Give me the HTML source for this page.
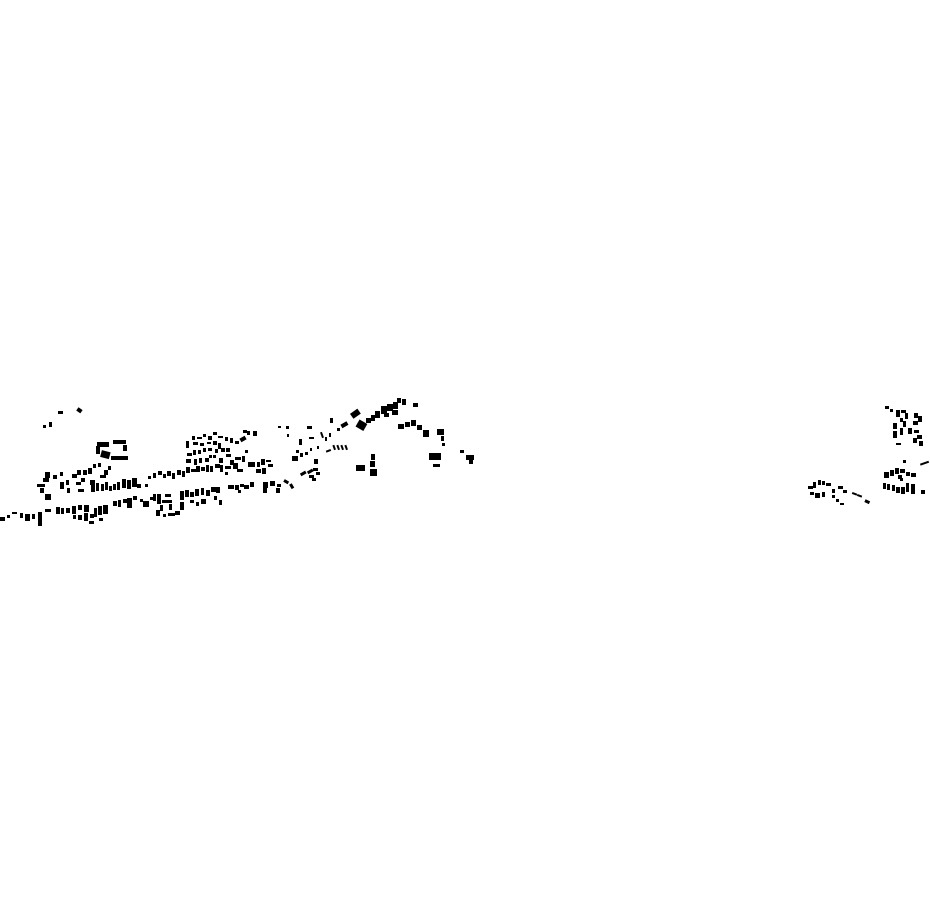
<!DOCTYPE html>
<html><head><meta charset="utf-8"><style>html,body{margin:0;padding:0;background:#fff}svg{display:block}</style></head>
<body>
<svg width="930" height="924" viewBox="0 0 930 924" xmlns="http://www.w3.org/2000/svg" fill="#000">
<!-- far west outliers -->
<rect x="58" y="411" width="5" height="3"/>
<rect x="77" y="408" width="5" height="4" transform="rotate(35 79 410)"/>
<rect x="43" y="425" width="3" height="3"/>
<rect x="49" y="422" width="3" height="5"/>
<!-- courtyard block -->
<rect x="97" y="442" width="12" height="5"/>
<rect x="96" y="446" width="4" height="8"/>
<rect x="101" y="451" width="9" height="7" transform="rotate(15 105 454)"/>
<rect x="113" y="440" width="13" height="4"/>
<rect x="123" y="445" width="4" height="6"/>
<rect x="111" y="456" width="17" height="4"/>
<!-- west cluster -->
<rect x="45" y="472" width="5" height="6"/>
<rect x="43" y="478" width="6" height="4"/>
<rect x="37" y="484" width="8" height="3"/>
<rect x="40" y="488" width="4" height="5"/>
<rect x="45" y="494" width="6" height="6"/>
<rect x="53" y="475" width="4" height="4"/>
<rect x="60" y="472" width="3" height="4"/>
<rect x="60" y="482" width="4" height="7"/>
<rect x="66" y="480" width="3" height="5"/>
<rect x="67" y="488" width="3" height="5"/>
<rect x="72" y="474" width="5" height="4"/>
<rect x="77" y="470" width="4" height="5"/>
<rect x="83" y="470" width="4" height="5"/>
<rect x="88" y="468" width="4" height="6"/>
<rect x="93" y="464" width="3" height="4"/>
<rect x="98" y="463" width="3" height="4"/>
<rect x="76" y="482" width="5" height="3"/>
<rect x="81" y="478" width="4" height="4"/>
<rect x="90" y="480" width="5" height="5"/>
<rect x="78" y="489" width="6" height="3"/>
<rect x="91" y="483" width="4" height="9"/>
<rect x="96" y="483" width="3" height="8"/>
<rect x="101" y="484" width="3" height="7"/>
<rect x="105" y="482" width="3" height="8"/>
<rect x="109" y="486" width="3" height="5"/>
<rect x="113" y="484" width="3" height="6"/>
<rect x="117" y="482" width="3" height="8"/>
<rect x="122" y="479" width="4" height="9"/>
<rect x="127" y="480" width="4" height="9"/>
<rect x="132" y="478" width="5" height="9"/>
<rect x="137" y="484" width="4" height="4"/>
<rect x="145" y="484" width="3" height="3"/>
<rect x="100" y="475" width="6" height="3"/>
<rect x="104" y="470" width="4" height="5"/>
<rect x="108" y="466" width="3" height="4"/>
<!-- south-west row -->
<rect x="0" y="517" width="5" height="4"/>
<rect x="7" y="515" width="3" height="3"/>
<rect x="12" y="512" width="5" height="2"/>
<rect x="20" y="513" width="3" height="5"/>
<rect x="25" y="514" width="5" height="7"/>
<rect x="32" y="514" width="3" height="5"/>
<rect x="38" y="512" width="4" height="14"/>
<rect x="45" y="509" width="6" height="3"/>
<rect x="56" y="507" width="4" height="7"/>
<rect x="61" y="508" width="3" height="6"/>
<rect x="66" y="508" width="4" height="5"/>
<rect x="72" y="506" width="4" height="8"/>
<rect x="78" y="505" width="4" height="5"/>
<rect x="84" y="505" width="5" height="7"/>
<rect x="73" y="515" width="3" height="4"/>
<rect x="78" y="515" width="4" height="5"/>
<rect x="84" y="513" width="4" height="8"/>
<rect x="90" y="514" width="4" height="4"/>
<rect x="89" y="521" width="5" height="3"/>
<rect x="94" y="508" width="3" height="9"/>
<rect x="98" y="506" width="4" height="9"/>
<rect x="103" y="505" width="5" height="9"/>
<rect x="99" y="518" width="4" height="3"/>
<rect x="113" y="501" width="4" height="5"/>
<rect x="118" y="500" width="3" height="7"/>
<rect x="123" y="499" width="5" height="4"/>
<rect x="127" y="498" width="5" height="10"/>
<rect x="133" y="496" width="4" height="4"/>
<rect x="140" y="499" width="3" height="3"/>
<rect x="143" y="501" width="6" height="6"/>
<rect x="150" y="497" width="4" height="3"/>
<rect x="153" y="494" width="3" height="7"/>
<rect x="157" y="494" width="4" height="10"/>
<rect x="162" y="500" width="10" height="3"/>
<rect x="160" y="505" width="3" height="6"/>
<rect x="156" y="510" width="4" height="6"/>
<rect x="163" y="514" width="3" height="3"/>
<rect x="168" y="513" width="7" height="3"/>
<rect x="175" y="511" width="5" height="4"/>
<rect x="169" y="504" width="3" height="6"/>
<!-- central north cluster -->
<rect x="192" y="436" width="3" height="4"/>
<rect x="197" y="437" width="5" height="2"/>
<rect x="203" y="434" width="3" height="3"/>
<rect x="208" y="436" width="4" height="4"/>
<rect x="213" y="432" width="4" height="3"/>
<rect x="218" y="436" width="5" height="2"/>
<rect x="225" y="437" width="3" height="4"/>
<rect x="230" y="438" width="3" height="5"/>
<rect x="235" y="441" width="4" height="3"/>
<rect x="186" y="441" width="3" height="7"/>
<rect x="193" y="442" width="5" height="3"/>
<rect x="200" y="443" width="4" height="3"/>
<rect x="207" y="442" width="4" height="2"/>
<rect x="213" y="441" width="4" height="4"/>
<rect x="218" y="443" width="3" height="6"/>
<rect x="187" y="453" width="5" height="3"/>
<rect x="193" y="450" width="3" height="5"/>
<rect x="198" y="450" width="3" height="4"/>
<rect x="203" y="448" width="3" height="4"/>
<rect x="208" y="448" width="4" height="3"/>
<rect x="215" y="449" width="3" height="4"/>
<rect x="221" y="448" width="4" height="4"/>
<rect x="226" y="448" width="4" height="4"/>
<rect x="186" y="459" width="5" height="4"/>
<rect x="194" y="459" width="3" height="6"/>
<rect x="199" y="458" width="3" height="5"/>
<rect x="205" y="458" width="4" height="4"/>
<rect x="209" y="455" width="3" height="3"/>
<rect x="213" y="455" width="3" height="3"/>
<rect x="219" y="458" width="4" height="5"/>
<rect x="226" y="454" width="5" height="3"/>
<rect x="230" y="460" width="4" height="5"/>
<rect x="235" y="457" width="6" height="3"/>
<rect x="242" y="456" width="3" height="6"/>
<rect x="245" y="450" width="3" height="3"/>
<rect x="240" y="437" width="6" height="4" transform="rotate(-30 243 439)"/>
<rect x="247" y="431" width="3" height="4"/>
<rect x="253" y="431" width="4" height="5"/>
<rect x="248" y="462" width="7" height="5"/>
<rect x="257" y="462" width="3" height="5"/>
<rect x="261" y="459" width="4" height="6"/>
<rect x="266" y="460" width="5" height="2"/>
<rect x="256" y="469" width="5" height="4"/>
<rect x="262" y="468" width="4" height="6"/>
<rect x="268" y="464" width="5" height="3"/>
<!-- mid cluster rows (y~465-480) -->
<rect x="148" y="476" width="3" height="3"/>
<rect x="153" y="473" width="3" height="5"/>
<rect x="158" y="471" width="4" height="4"/>
<rect x="163" y="474" width="3" height="4"/>
<rect x="167" y="471" width="4" height="5"/>
<rect x="172" y="473" width="3" height="6"/>
<rect x="177" y="470" width="4" height="5"/>
<rect x="182" y="471" width="3" height="6"/>
<rect x="186" y="467" width="4" height="6"/>
<rect x="191" y="469" width="5" height="3"/>
<rect x="196" y="466" width="4" height="6"/>
<rect x="201" y="467" width="4" height="4"/>
<rect x="206" y="465" width="3" height="7"/>
<rect x="210" y="466" width="3" height="6"/>
<rect x="215" y="464" width="5" height="4"/>
<rect x="220" y="465" width="3" height="7"/>
<rect x="225" y="466" width="6" height="3"/>
<rect x="233" y="463" width="5" height="6"/>
<rect x="237" y="469" width="6" height="3"/>
<rect x="225" y="472" width="3" height="3"/>
<!-- mid south row -->
<rect x="165" y="494" width="6" height="3"/>
<rect x="180" y="491" width="4" height="9"/>
<rect x="185" y="490" width="4" height="7"/>
<rect x="190" y="492" width="4" height="5"/>
<rect x="195" y="489" width="4" height="7"/>
<rect x="201" y="488" width="3" height="7"/>
<rect x="206" y="490" width="4" height="6"/>
<rect x="211" y="487" width="5" height="5"/>
<rect x="216" y="487" width="4" height="6"/>
<rect x="190" y="500" width="4" height="3"/>
<rect x="196" y="502" width="3" height="4"/>
<rect x="201" y="499" width="5" height="5"/>
<rect x="214" y="496" width="3" height="4"/>
<rect x="219" y="500" width="3" height="5"/>
<rect x="180" y="502" width="4" height="8"/>
<rect x="228" y="485" width="6" height="4"/>
<rect x="235" y="485" width="4" height="5"/>
<rect x="240" y="484" width="4" height="3"/>
<rect x="244" y="485" width="5" height="4"/>
<rect x="250" y="482" width="4" height="5"/>
<rect x="238" y="490" width="3" height="3"/>
<rect x="263" y="482" width="5" height="6"/>
<rect x="263" y="488" width="4" height="5"/>
<rect x="270" y="481" width="5" height="5"/>
<rect x="277" y="484" width="4" height="3"/>
<rect x="276" y="488" width="4" height="5"/>
<rect x="284" y="480" width="5" height="3" transform="rotate(30 286 481)"/>
<rect x="290" y="484" width="3" height="5" transform="rotate(-30 291 486)"/>
<!-- east of center -->
<rect x="243" y="430" width="4" height="3"/>
<rect x="278" y="426" width="3" height="2"/>
<rect x="286" y="426" width="3" height="3"/>
<rect x="307" y="426" width="5" height="3"/>
<rect x="287" y="434" width="2" height="3"/>
<rect x="299" y="439" width="3" height="6"/>
<rect x="309" y="437" width="5" height="2"/>
<rect x="321" y="432" width="2" height="6" transform="rotate(-20 322 435)"/>
<rect x="325" y="437" width="2" height="4"/>
<rect x="329" y="433" width="2" height="4"/>
<rect x="296" y="450" width="3" height="3"/>
<rect x="300" y="453" width="3" height="4"/>
<rect x="305" y="452" width="3" height="3"/>
<rect x="310" y="448" width="2" height="3"/>
<rect x="317" y="446" width="2" height="3"/>
<rect x="292" y="456" width="6" height="5"/>
<rect x="314" y="459" width="4" height="5"/>
<rect x="326" y="450" width="5" height="2" transform="rotate(-20 328 451)"/>
<rect x="333" y="445" width="2" height="5" transform="rotate(-20 334 447)"/>
<rect x="337" y="445" width="2" height="5" transform="rotate(-20 338 447)"/>
<rect x="341" y="445" width="2" height="5" transform="rotate(-20 342 447)"/>
<rect x="345" y="445" width="2" height="5" transform="rotate(-20 346 447)"/>
<rect x="300" y="472" width="6" height="3" transform="rotate(-30 303 473)"/>
<rect x="307" y="470" width="6" height="3" transform="rotate(-30 310 471)"/>
<rect x="313" y="468" width="5" height="3"/>
<rect x="309" y="475" width="5" height="3"/>
<rect x="316" y="472" width="4" height="3"/>
<rect x="312" y="478" width="4" height="3"/>
<rect x="330" y="418" width="3" height="5"/>
<rect x="341" y="423" width="7" height="4" transform="rotate(-30 344 425)"/>
<rect x="337" y="428" width="3" height="3"/>
<rect x="351" y="411" width="9" height="6" transform="rotate(-35 355 414)"/>
<rect x="357" y="421" width="9" height="8" transform="rotate(30 361 425)"/>
<rect x="366" y="418" width="5" height="5"/>
<rect x="371" y="415" width="4" height="6"/>
<rect x="375" y="411" width="5" height="7"/>
<rect x="381" y="406" width="6" height="8"/>
<rect x="387" y="404" width="6" height="7"/>
<rect x="384" y="413" width="5" height="4"/>
<rect x="393" y="402" width="5" height="7"/>
<rect x="397" y="398" width="4" height="5"/>
<rect x="402" y="399" width="4" height="6"/>
<rect x="392" y="410" width="6" height="5"/>
<rect x="413" y="403" width="5" height="4"/>
<rect x="398" y="424" width="6" height="5"/>
<rect x="405" y="422" width="5" height="5"/>
<rect x="411" y="420" width="5" height="6"/>
<rect x="417" y="425" width="5" height="5"/>
<rect x="423" y="430" width="6" height="7"/>
<rect x="437" y="429" width="7" height="6"/>
<rect x="441" y="436" width="3" height="5"/>
<rect x="442" y="443" width="3" height="3"/>
<rect x="429" y="453" width="12" height="7"/>
<rect x="433" y="464" width="7" height="3"/>
<rect x="460" y="450" width="4" height="3"/>
<rect x="466" y="455" width="8" height="5"/>
<rect x="469" y="459" width="4" height="5"/>
<rect x="356" y="465" width="9" height="6"/>
<rect x="371" y="454" width="4" height="6"/>
<rect x="370" y="461" width="5" height="6"/>
<rect x="370" y="469" width="7" height="7"/>
<!-- far east cluster -->
<rect x="885" y="406" width="4" height="3"/>
<rect x="890" y="409" width="3" height="3"/>
<rect x="896" y="410" width="4" height="7"/>
<rect x="901" y="410" width="5" height="3"/>
<rect x="905" y="413" width="3" height="6"/>
<rect x="900" y="418" width="3" height="4"/>
<rect x="893" y="423" width="4" height="6"/>
<rect x="893" y="431" width="4" height="7"/>
<rect x="903" y="421" width="3" height="6"/>
<rect x="900" y="428" width="3" height="7"/>
<rect x="914" y="413" width="4" height="5"/>
<rect x="918" y="416" width="4" height="6"/>
<rect x="913" y="421" width="5" height="4"/>
<rect x="908" y="428" width="4" height="6"/>
<rect x="914" y="430" width="5" height="3"/>
<rect x="917" y="435" width="5" height="4"/>
<rect x="913" y="438" width="4" height="5"/>
<rect x="919" y="441" width="4" height="5"/>
<rect x="896" y="443" width="5" height="2"/>
<rect x="903" y="460" width="3" height="3"/>
<rect x="920" y="462" width="9" height="2" transform="rotate(-20 925 463)"/>
<rect x="884" y="472" width="5" height="6"/>
<rect x="890" y="470" width="4" height="6"/>
<rect x="895" y="468" width="4" height="6"/>
<rect x="900" y="469" width="5" height="4"/>
<rect x="906" y="472" width="4" height="4"/>
<rect x="911" y="473" width="5" height="4"/>
<rect x="898" y="475" width="4" height="4"/>
<rect x="883" y="483" width="3" height="6"/>
<rect x="887" y="484" width="3" height="6"/>
<rect x="892" y="485" width="3" height="6"/>
<rect x="896" y="487" width="4" height="6"/>
<rect x="901" y="487" width="4" height="7"/>
<rect x="906" y="483" width="3" height="9"/>
<rect x="911" y="484" width="4" height="10"/>
<rect x="921" y="490" width="4" height="4"/>
<rect x="900" y="478" width="3" height="3"/>
<rect x="808" y="486" width="5" height="3"/>
<rect x="813" y="482" width="3" height="6"/>
<rect x="818" y="480" width="3" height="5"/>
<rect x="822" y="481" width="3" height="4"/>
<rect x="826" y="483" width="5" height="3"/>
<rect x="810" y="492" width="4" height="3"/>
<rect x="815" y="493" width="5" height="5"/>
<rect x="822" y="492" width="3" height="5"/>
<rect x="832" y="489" width="3" height="4"/>
<rect x="838" y="486" width="5" height="3"/>
<rect x="843" y="490" width="4" height="3"/>
<rect x="832" y="495" width="3" height="3"/>
<rect x="836" y="499" width="3" height="3"/>
<rect x="840" y="503" width="4" height="2"/>
<rect x="852" y="493" width="5" height="2" transform="rotate(20 855 494)"/>
<rect x="857" y="495" width="5" height="2" transform="rotate(20 860 496)"/>
<rect x="865" y="500" width="5" height="3" transform="rotate(25 867 501)"/>
</svg>
</body></html>
